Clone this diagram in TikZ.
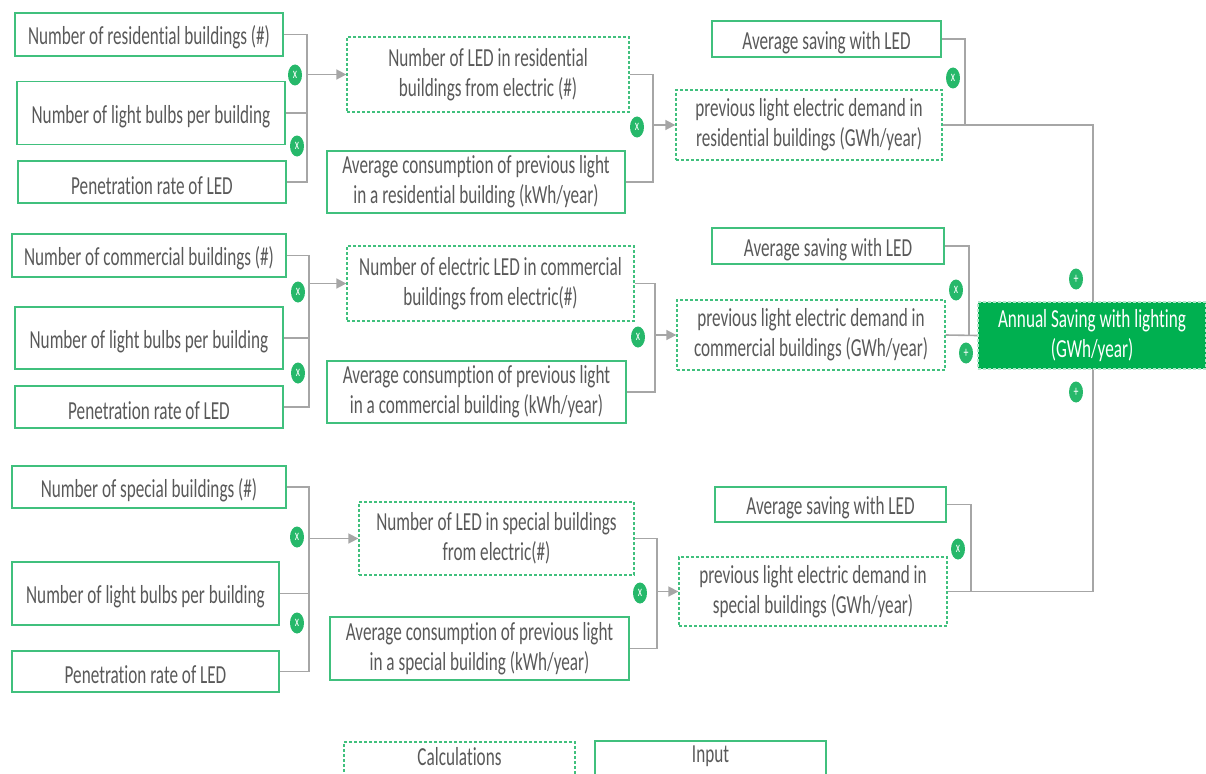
\documentclass[tikz,border=0pt]{standalone}
\usepackage{fontspec}
\setmainfont{Carlito}[FakeStretch=0.66,Ligatures=NoCommon]
\usetikzlibrary{arrows.meta,backgrounds,shapes.geometric}
\definecolor{boxgreen}{RGB}{64,192,125}
\definecolor{fillgreen}{RGB}{0,176,80}
\definecolor{opgreen}{RGB}{38,184,106}
\definecolor{txtgray}{RGB}{89,89,89}
\definecolor{linegray}{RGB}{166,166,166}
\tikzset{
  plainbox/.style={draw=boxgreen, line width=1.3pt, text=txtgray, align=center, inner sep=0pt, font=\fontsize{26}{30}\selectfont},
  basebox/.style={plainbox, execute at begin node={\rule{0pt}{25pt}}},
  inbox/.style={basebox},
  calcbox/.style={basebox, dash pattern=on 3pt off 2pt},
  legtext/.style={text=txtgray, inner sep=0pt, font=\fontsize{26}{30}\selectfont},
  conn/.style={draw=linegray, line width=1.6pt},
  arr/.style={conn, -{Triangle[length=10pt,width=10pt]}},
  op/.style={inner sep=0pt, text=white, font=\fontsize{15}{15}\selectfont},
}
\newcommand\opmark[3]{\fill[opgreen] (#2) ellipse (7 and 10.5); \node[op] (#1) at (#2) {#3};}
\begin{document}
\begin{tikzpicture}[x=1pt,y=-1pt]
\clip (0,0) rectangle (1206,773);
% Row 1
\node[inbox, minimum width=268pt, minimum height=43pt] (A1) at (149,34.5) {Number of residential buildings (\#)};
\node[inbox, minimum width=268pt, minimum height=63pt] (A2) at (151,113) {Number of light bulbs per building};
\node[inbox, minimum width=268pt, minimum height=42pt] (A3) at (152,182) {Penetration rate of LED};
\node[calcbox, minimum width=282pt, minimum height=75pt] (B1) at (488,74.5) {Number of LED in residential\\buildings from electric (\#)};
\node[inbox, minimum width=298pt, minimum height=62pt] (C1) at (476,182) {Average consumption of previous light\\in a residential building (kWh/year)};
\node[calcbox, minimum width=266pt, minimum height=70pt] (D1) at (809,125) {previous light electric demand in\\residential buildings (GWh/year)};
\node[inbox, minimum width=229pt, minimum height=36pt] (E1) at (826.5,39) {Average saving with LED};
% Row 2
\node[inbox, minimum width=274pt, minimum height=43pt] (A4) at (149,255.5) {Number of commercial buildings (\#)};
\node[inbox, minimum width=268pt, minimum height=62pt] (A5) at (149,338) {Number of light bulbs per building};
\node[inbox, minimum width=268pt, minimum height=42pt] (A6) at (149,407) {Penetration rate of LED};
\node[calcbox, minimum width=287pt, minimum height=75pt] (B2) at (490.5,283.5) {Number of electric LED in commercial\\buildings from electric(\#)};
\node[inbox, minimum width=299pt, minimum height=62pt] (C2) at (476.5,392) {Average consumption of previous light\\in a commercial building (kWh/year)};
\node[calcbox, minimum width=268pt, minimum height=70pt] (D2) at (811,335) {previous light electric demand in\\commercial buildings (GWh/year)};
\node[inbox, minimum width=232pt, minimum height=36pt] (E2) at (828,246) {Average saving with LED};
% Row 3
\node[inbox, minimum width=274pt, minimum height=42pt] (A7) at (149,487) {Number of special buildings (\#)};
\node[inbox, minimum width=267pt, minimum height=63pt] (A8) at (145.5,593.5) {Number of light bulbs per building};
\node[inbox, minimum width=267pt, minimum height=41pt] (A9) at (145.5,671.5) {Penetration rate of LED};
\node[calcbox, minimum width=275pt, minimum height=73pt] (B3) at (496.5,538.5) {Number of LED in special buildings\\from electric(\#)};
\node[inbox, minimum width=299pt, minimum height=63pt] (C3) at (479.5,648.5) {Average consumption of previous light\\in a special building (kWh/year)};
\node[calcbox, minimum width=268pt, minimum height=69pt] (D3) at (813,591.5) {previous light electric demand in\\special buildings (GWh/year)};
\node[inbox, minimum width=231pt, minimum height=35pt] (E3) at (830.5,504.5) {Average saving with LED};
% Final
\node[basebox, draw=boxgreen!40, fill=fillgreen, text=white, dash pattern=on 3pt off 2pt, minimum width=228pt, minimum height=67pt] (F) at (1092,335.5) {Annual Saving with lighting\\(GWh/year)};
% Legend
\node[plainbox, dash pattern=on 3pt off 2pt, minimum width=231pt, minimum height=36pt] (L1) at (459.5,760) {};
\node[plainbox, minimum width=231pt, minimum height=36pt] (L2) at (710.5,759) {};
\node[legtext] (L1t) at (459.5,757) {Calculations};
\node[legtext] (L2t) at (710.5,756) {Input};
% junction coordinates
\coordinate (j1) at (307,0);
\coordinate (j2) at (653,0);
\coordinate (j3) at (965,0);
\coordinate (j4) at (309,0);
\coordinate (j5) at (655,0);
\coordinate (j6) at (969,0);
\coordinate (j7) at (309,0);
\coordinate (j8) at (657,0);
\coordinate (j9) at (971,0);
\coordinate (jm) at (1093,0);
\begin{scope}[on background layer]
% row 1
\draw[conn] (A1.east) -- (A1.east -| j1) -- (A3.east -| j1) -- (A3.east);
\draw[conn] (A2.east) -- (A2.east -| j1);
\draw[arr] (B1.west -| j1) -- (B1.west);
\draw[conn] (B1.east) -- (B1.east -| j2) -- (C1.east -| j2) -- (C1.east);
\draw[arr] (D1.west -| j2) -- (D1.west);
\draw[conn] (E1.east) -- (E1.east -| j3) -- (D1.east -| j3);
\draw[conn] (D1.east) -- (D1.east -| jm) -- (D3.east -| jm) -- (D3.east);
% row 2
\draw[conn] (A4.east) -- (A4.east -| j4) -- (A6.east -| j4) -- (A6.east);
\draw[conn] (A5.east) -- (A5.east -| j4);
\draw[arr] (B2.west -| j4) -- (B2.west);
\draw[conn] (B2.east) -- (B2.east -| j5) -- (C2.east -| j5) -- (C2.east);
\draw[arr] (D2.west -| j5) -- (D2.west);
\draw[conn] (E2.east) -- (E2.east -| j6) -- (D2.east -| j6);
\draw[conn] (D2.east) -- (F.west);
% row 3
\draw[conn] (A7.east) -- (A7.east -| j7) -- (A9.east -| j7) -- (A9.east);
\draw[conn] (A8.east) -- (A8.east -| j7);
\draw[arr] (B3.west -| j7) -- (B3.west);
\draw[conn] (B3.east) -- (B3.east -| j8) -- (C3.east -| j8) -- (C3.east);
\draw[arr] (D3.west -| j8) -- (D3.west);
\draw[conn] (E3.east) -- (E3.east -| j9) -- (D3.east -| j9);
\end{scope}
% operators
\opmark{o1}{295,75}{x}
\opmark{o2}{297,146}{x}
\opmark{o3}{637,127}{x}
\opmark{o4}{953,78}{x}
\opmark{o5}{298,292}{x}
\opmark{o6}{298,373}{x}
\opmark{o7}{638,337}{x}
\opmark{o8}{956,290}{x}
\opmark{o9}{966,353}{+}
\opmark{o10}{1076,279}{+}
\opmark{o11}{1076,392}{+}
\opmark{o12}{297,537}{x}
\opmark{o13}{297,623}{x}
\opmark{o14}{640,593}{x}
\opmark{o15}{958,549}{x}
\end{tikzpicture}
\end{document}
